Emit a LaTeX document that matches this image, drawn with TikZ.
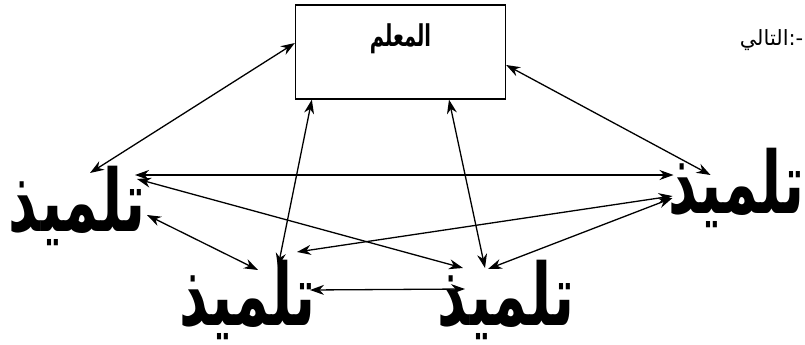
\documentclass[tikz,border=0pt]{standalone}
\usepackage{fontspec}
\usetikzlibrary{positioning, arrows.meta}
\newfontfamily\arabicfont[Script=Arabic]{DejaVu Sans}
\newfontfamily\narrowfont[Script=Arabic, FakeStretch=0.65]{DejaVu Sans}
\TeXXeTstate=1

\begin{document}
\begin{tikzpicture}[x=1pt, y=1pt, on grid]
    % Define styles
    \tikzstyle{teacherbox} = [rectangle, draw=black, line width=1.3pt, minimum width=210pt, inner sep=0pt, text height=42pt, text depth=52pt, font=\narrowfont\bfseries\fontsize{30}{30}\selectfont]
    \tikzstyle{student} = [inner sep=0pt, font=\narrowfont\bfseries\fontsize{86}{86}\selectfont]
    \tikzstyle{note} = [inner sep=0pt, font=\arabicfont\fontsize{21}{21}\selectfont]
    \tikzstyle{arrow} = [line width=1.3pt, {Stealth[length=14pt,width=10pt]}-{Stealth[length=14pt,width=10pt]}]

    \useasboundingbox (0,0) rectangle (805,-345);

    % Nodes
    \node (teacher) [teacherbox] at (400.5,-52) {\beginR المعلم\endR};
    \node (lstu) [student, below left=153.5pt and 323.5pt of teacher] {\beginR تلميذ\endR};
    \node (blstu) [student, below left=247.5pt and 153pt of teacher] {\beginR تلميذ\endR};
    \node (brstu) [student, right=258.5pt of blstu] {\beginR تلميذ\endR};
    \node (rstu) [student, below right=135.5pt and 336pt of teacher] {\beginR تلميذ\endR};
    \node (next) [note, above right=12pt and 371pt of teacher] {\hbox{\beginR التالي\endR}\hbox{-:}};

    % Arrows
    \draw [arrow] ([yshift=9pt]teacher.west) -- ([shift={(13,32.5)}]lstu.center);
    \draw [arrow] ([yshift=-13pt]teacher.east) -- ([shift={(-26,12.5)}]rstu.center);
    \draw [arrow] ([xshift=17pt]teacher.south west) -- ([shift={(30.5,32.5)}]blstu.center);
    \draw [arrow] ([xshift=48.5pt]teacher.south) -- ([shift={(-21,31.5)}]brstu.center);
    \draw [arrow] ([shift={(58,30.5)}]lstu.center) -- ([shift={(-63,12.5)}]rstu.center);
    \draw [arrow] ([shift={(60,26.5)}]lstu.center) -- ([shift={(-43,31.5)}]brstu.center);
    \draw [arrow] ([shift={(70,-9.5)}]lstu.center) -- ([shift={(10.5,29.5)}]blstu.center);
    \draw [arrow] ([shift={(-64,-8.5)}]rstu.center) -- ([shift={(49.5,47.5)}]blstu.center);
    \draw [arrow] ([shift={(-64,-10.5)}]rstu.center) -- ([shift={(-18,30.5)}]brstu.center);
    \draw [arrow] ([shift={(62.5,9.5)}]blstu.center) -- ([shift={(-41,10.5)}]brstu.center);
\end{tikzpicture}
\end{document}
